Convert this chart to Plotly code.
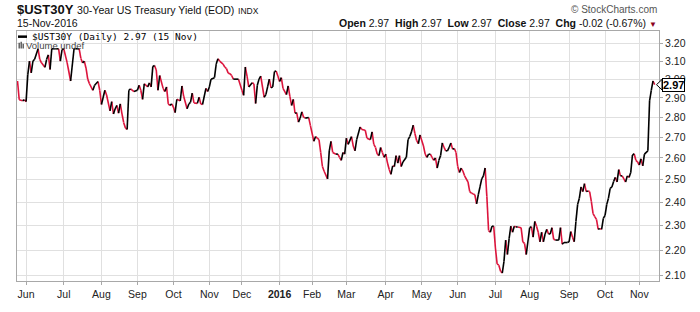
import numpy as np
import pandas as pd
import plotly.graph_objects as go

# ---------------- data ----------------
start_date = "2015-05-22"
end_date = "2016-11-15"
bond_holidays = ["2015-05-25", "2015-07-03", "2015-09-07", "2015-10-12", "2015-11-11",
                 "2015-11-26", "2015-12-25", "2016-01-01", "2016-01-18", "2016-02-15",
                 "2016-05-30", "2016-07-04", "2016-09-05", "2016-10-10", "2016-11-11"]

# trading-day index (0 = 22-May-2015) and 30Y yield (%)
day_index = [0, 1, 3, 4, 5, 6, 7, 8, 9, 10, 12, 13, 14, 16, 17, 18, 19, 20, 22, 24, 25, 26, 27, 29, 31,
             33, 34, 36, 37, 38, 39, 40, 41, 42, 44, 45, 47, 48, 49, 51, 52, 54, 55, 56, 57, 58, 59,
             60, 61, 62, 63, 64, 65, 66, 68, 70, 71, 72, 73, 74, 76, 77, 78, 79, 80, 81, 82, 83, 85,
             86, 87, 88, 89, 90, 91, 92, 93, 95, 96, 97, 99, 100, 101, 102, 103, 105, 106, 107, 108,
             110, 111, 112, 113, 115, 116, 117, 118, 120, 121, 122, 123, 124, 125, 126, 129, 131,
             132, 133, 134, 135, 137, 138, 139, 140, 141, 142, 144, 145, 146, 147, 148, 149, 150,
             151, 152, 153, 154, 155, 157, 158, 159, 160, 161, 162, 163, 164, 165, 166, 167, 168,
             170, 171, 173, 174, 175, 176, 177, 178, 179, 181, 182, 183, 184, 186, 187, 188, 189,
             190, 191, 192, 193, 195, 196, 197, 198, 200, 201, 203, 204, 206, 207, 208, 209, 210,
             211, 212, 213, 214, 215, 216, 217, 218, 219, 220, 221, 222, 223, 224, 225, 227, 228,
             229, 230, 231, 232, 233, 234, 235, 237, 238, 239, 240, 241, 242, 243, 244, 245, 246,
             247, 248, 249, 250, 251, 252, 253, 254, 255, 256, 257, 258, 259, 260, 261, 263, 264,
             265, 266, 267, 268, 269, 270, 271, 272, 273, 274, 275, 276, 277, 278, 279, 280, 281,
             282, 283, 284, 285, 286, 287, 288, 289, 290, 291, 292, 294, 295, 296, 297, 299, 300,
             301, 302, 303, 304, 305, 306, 307, 308, 309, 310, 311, 312, 313, 314, 316, 317, 318,
             319, 321, 322, 323, 324, 325, 326, 327, 328, 329, 330, 331, 332, 333, 334, 335, 336,
             337, 338, 339, 340, 341, 342, 343, 344, 345, 346, 347, 348, 349, 350, 351, 352, 353,
             354, 355, 356, 357, 358, 359, 360, 361, 362, 363, 364, 365, 366, 368, 369, 370, 371, 372]
yield_pct = [2.99, 2.89, 2.885, 2.89, 2.88, 3.025, 3.10, 3.035, 3.10, 3.11, 3.17, 3.11, 3.09, 3.065,
             3.11, 3.135, 3.053, 3.17, 3.17, 3.17, 3.10, 3.165, 3.17, 3.09, 2.99,
             3.17, 3.17, 3.17, 3.115, 3.09, 3.10, 3.06, 3.00, 2.975, 2.94, 2.967, 2.987, 2.94, 2.865,
             2.94, 2.915, 2.832, 2.88, 2.816, 2.843, 2.86, 2.82,
             2.868, 2.816, 2.772, 2.745, 2.738, 2.94, 2.948, 2.933, 2.94, 2.967, 2.94, 2.892, 2.975,
             2.958, 2.98, 2.958, 3.07, 3.075, 3.05, 2.94, 3.02, 2.95,
             2.933, 2.958, 2.868, 2.86, 2.868, 2.852, 2.823, 2.892, 2.884, 2.963, 2.908, 2.843,
             2.868, 2.876, 2.925, 2.873, 2.871, 2.903, 2.868, 2.865,
             2.95, 2.933, 2.958, 3.00, 3.008, 3.083, 3.113, 3.10, 3.083, 3.067, 3.058, 3.033, 3.03,
             3.02, 3.00, 3.00, 2.94,
             2.913, 3.067, 3.017, 2.958, 2.98, 2.975, 2.87, 2.967, 3.00, 3.017, 2.903, 2.917, 2.958,
             3.00, 2.953, 2.958, 3.042,
             3.045, 3.017, 2.987, 3.008, 2.95, 2.917, 2.963, 2.908, 2.86, 2.892, 2.82, 2.823, 2.775,
             2.795, 2.827, 2.80, 2.795,
             2.798, 2.757, 2.68, 2.703, 2.695, 2.688, 2.626, 2.56, 2.538, 2.503, 2.634, 2.68, 2.626,
             2.618, 2.618, 2.603, 2.589,
             2.626, 2.618, 2.695, 2.665, 2.703, 2.657, 2.634, 2.688, 2.75, 2.738, 2.734, 2.695,
             2.688, 2.726, 2.665, 2.65, 2.618,
             2.611, 2.65, 2.626, 2.603, 2.618, 2.576, 2.546, 2.524, 2.563, 2.56, 2.611, 2.576, 2.611,
             2.56, 2.581, 2.603, 2.688,
             2.703, 2.726, 2.76, 2.718, 2.684, 2.668, 2.711, 2.657, 2.618, 2.603, 2.618, 2.618,
             2.603, 2.589, 2.60, 2.553, 2.589,
             2.611, 2.672, 2.65, 2.634, 2.634, 2.65, 2.672, 2.642, 2.645, 2.626, 2.56, 2.532, 2.553,
             2.539, 2.517, 2.489, 2.446,
             2.439, 2.436, 2.432, 2.392, 2.432, 2.467, 2.503, 2.517, 2.553, 2.425, 2.279, 2.272,
             2.297, 2.297, 2.208, 2.145, 2.14,
             2.117, 2.11, 2.155, 2.24, 2.182, 2.246, 2.297, 2.272, 2.297, 2.294, 2.294, 2.291, 2.233,
             2.227, 2.182, 2.291, 2.295,
             2.252, 2.317, 2.297, 2.272, 2.233, 2.272, 2.233, 2.265, 2.284, 2.265, 2.265, 2.291,
             2.243, 2.24, 2.24, 2.291, 2.223,
             2.23, 2.23, 2.233, 2.275, 2.252, 2.233, 2.317, 2.39, 2.417, 2.467, 2.446, 2.482, 2.446,
             2.449, 2.446, 2.403, 2.35,
             2.337, 2.326, 2.284, 2.287, 2.284, 2.33, 2.343, 2.39, 2.417, 2.46, 2.467, 2.491, 2.51,
             2.489, 2.546, 2.517, 2.517,
             2.503, 2.489, 2.517, 2.51, 2.532, 2.614, 2.62, 2.589, 2.581, 2.567, 2.596, 2.563, 2.618,
             2.634, 2.884, 2.94, 2.99, 2.97]

month_labels = ["Jun", "Jul", "Aug", "Sep", "Oct", "Nov", "Dec", "<b>2016</b>", "Feb", "Mar",
                "Apr", "May", "Jun", "Jul", "Aug", "Sep", "Oct", "Nov"]
y_ticks = [2.10, 2.20, 2.30, 2.40, 2.50, 2.60, 2.70, 2.80, 2.90, 3.00, 3.10, 3.20]
last_value = 2.97

# ---------------- derived ----------------
bdays = pd.bdate_range(start_date, end_date, freq="C", holidays=bond_holidays)
periods = pd.Series(bdays.to_period("M"))
first_of_month = np.nonzero((~periods.duplicated()).values)[0][1:]
tick_pos = [int(v) for v in first_of_month]

up_x, up_y, dn_x, dn_y = [], [], [], []
for i in range(len(day_index) - 1):
    sx = [day_index[i], day_index[i + 1], None]
    sy = [yield_pct[i], yield_pct[i + 1], None]
    if yield_pct[i + 1] >= yield_pct[i]:
        up_x += sx; up_y += sy
    else:
        dn_x += sx; dn_y += sy

W, H = 700, 312
ML, MR, MT, MB = 17, 41, 31, 16
PW, PH = W - ML - MR, H - MT - MB
ylo, yhi = np.log10(2.0796), np.log10(3.274)


def px(xp):
    return (xp - ML) / PW


def py(yp):
    return 1 + (MT - yp) / PH


fig = go.Figure()
fig.add_trace(go.Scatter(x=dn_x, y=dn_y, mode="lines", line=dict(color="#dc143c", width=1.6),
                         hoverinfo="skip", showlegend=False))
fig.add_trace(go.Scatter(x=up_x, y=up_y, mode="lines", line=dict(color="#000000", width=1.6),
                         hoverinfo="skip", showlegend=False))

font_main = "Liberation Sans, Arial, sans-serif"
fig.update_layout(
    width=W, height=H,
    margin=dict(l=ML, r=MR, t=MT, b=MB, pad=0),
    paper_bgcolor="white", plot_bgcolor="white",
    font=dict(family=font_main, size=10.5, color="#222"),
    showlegend=False,
    xaxis=dict(range=[-0.3, 374.5], tickmode="array", tickvals=tick_pos, ticktext=month_labels,
               showgrid=True, gridcolor="#e0e0e0", gridwidth=1, zeroline=False,
               showline=True, linecolor="#a8a8a8", linewidth=1, mirror=True,
               ticks="outside", ticklen=3, tickcolor="#a8a8a8",
               tickfont=dict(size=10.5, color="#222")),
    yaxis=dict(type="log", side="right", range=[ylo, yhi], tickmode="array",
               tickvals=y_ticks, ticktext=["%.2f" % v for v in y_ticks],
               showgrid=True, gridcolor="#e0e0e0", gridwidth=1, zeroline=False,
               showline=True, linecolor="#a8a8a8", linewidth=1, mirror=True,
               ticks="outside", ticklen=3, tickcolor="#a8a8a8",
               tickfont=dict(size=10.5, color="#222")),
)

# darker year gridline
fig.add_shape(type="line", xref="x", yref="paper", x0=tick_pos[7], x1=tick_pos[7], y0=0, y1=1,
              line=dict(color="#b0b0b0", width=1), layer="below")

ann = []
ann.append(dict(xref="paper", yref="paper", x=px(15), y=py(8.5), xanchor="left", yanchor="middle",
                showarrow=False,
                text="<b>$UST30Y</b> <span style='font-size:10.6px'>30-Year US Treasury Yield (EOD)</span>"
                     " <span style='font-size:8.5px'>INDX</span>",
                font=dict(size=13, color="#111", family=font_main)))
ann.append(dict(xref="paper", yref="paper", x=px(15), y=py(23), xanchor="left", yanchor="middle",
                showarrow=False, text="15-Nov-2016", font=dict(size=10.5, color="#111")))
ann.append(dict(xref="paper", yref="paper", x=px(659), y=py(8.5), xanchor="right", yanchor="middle",
                showarrow=False, text="© StockCharts.com", font=dict(size=10, color="#555")))
ann.append(dict(xref="paper", yref="paper", x=px(659), y=py(22.5), xanchor="right", yanchor="middle",
                showarrow=False,
                text="<b>Open</b> 2.97  <b>High</b> 2.97  <b>Low</b> 2.97  <b>Close</b> 2.97  "
                     "<b>Chg</b> -0.02 (-0.67%) <span style='color:#8b0020;font-size:8px'>▼</span>",
                font=dict(size=10.5, color="#111")))
ann.append(dict(xref="paper", yref="paper", x=px(31), y=py(37), xanchor="left", yanchor="middle",
                showarrow=False, text="$UST30Y (Daily) 2.97 (15 Nov)", borderpad=0,
                font=dict(size=9.5, color="#000", family="DejaVu Sans Mono, monospace")))
ann.append(dict(xref="paper", yref="paper", x=px(25), y=py(46.5), xanchor="left", yanchor="middle",
                showarrow=False, text="Volume undef", borderpad=0, font=dict(size=9.5, color="#444")))
ann.append(dict(xref="paper", yref="y", x=px(662), y=np.log10(last_value), xanchor="left",
                yanchor="middle", showarrow=False, text="<b>2.97</b>",
                font=dict(size=11, color="#000"), bgcolor="white", bordercolor="#000",
                borderwidth=1, borderpad=0))
fig.update_layout(annotations=ann)

# legend dash
fig.add_shape(type="line", xref="paper", yref="paper", x0=px(18), x1=px(27), y0=py(37), y1=py(37),
              line=dict(color="#000", width=2.5))
# volume icon
for bx, top in [(18.5, 43.5), (20.5, 42.5), (22.5, 44.5)]:
    fig.add_shape(type="rect", xref="paper", yref="paper", x0=px(bx), x1=px(bx + 1.4),
                  y0=py(49.5), y1=py(top), line=dict(width=0), fillcolor="#555")
# notch of the last-value label
yv = (np.log10(last_value) - ylo) / (yhi - ylo)
hh = 5.5 / PH
fig.add_shape(type="path", xref="paper", yref="paper",
              path=f"M {px(656.5)} {yv} L {px(662)} {yv + hh} L {px(662)} {yv - hh} Z",
              line=dict(color="#000", width=1), fillcolor="white")

fig.write_html("out.html")
